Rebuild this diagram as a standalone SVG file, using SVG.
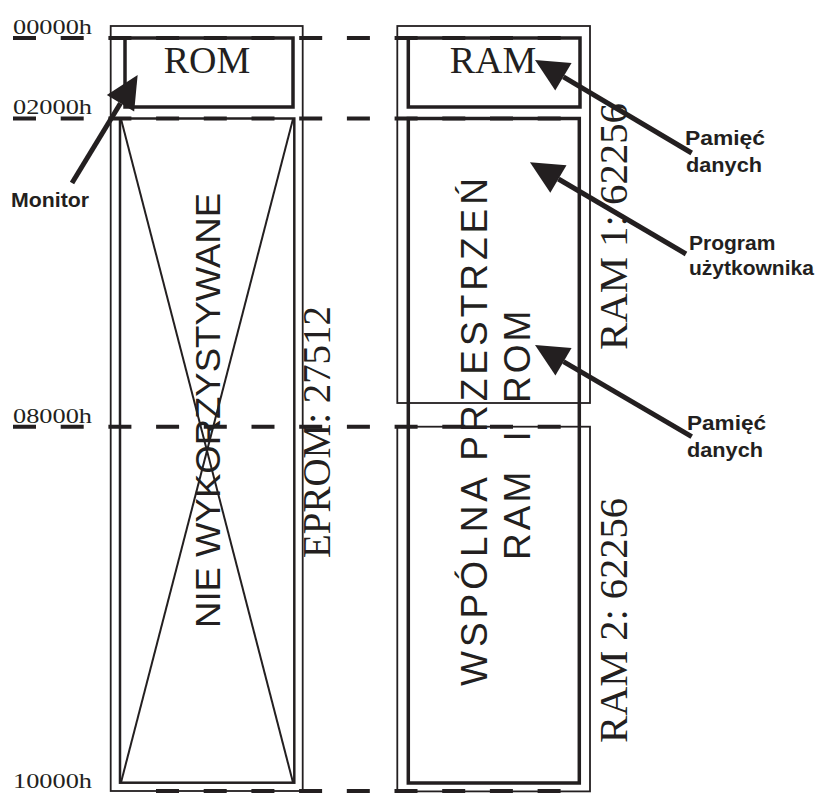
<svg xmlns="http://www.w3.org/2000/svg" width="819" height="794" viewBox="0 0 819 794">
<style>
.thin{fill:none;stroke:#231f20;stroke-width:1.8}
.thick{fill:none;stroke:#231f20;stroke-width:3.5}
.mid{fill:none;stroke:#231f20;stroke-width:2.5}
.xl{fill:none;stroke:#231f20;stroke-width:2}
.dash{fill:none;stroke:#231f20;stroke-width:4;stroke-dasharray:23 24.7}
.arrow{fill:none;stroke:#231f20;stroke-width:5;marker-end:url(#ah)}
.addr{font-family:"Liberation Serif","Times New Roman",serif;font-size:22px;fill:#231f20}
.serif{font-family:"Liberation Serif","Times New Roman",serif;fill:#231f20}
.sans{font-family:"Liberation Sans",Arial,sans-serif;fill:#231f20}
.lbl{font-family:"Liberation Sans",Arial,sans-serif;font-size:21px;font-weight:bold;fill:#231f20}
</style>
<defs>
<marker id="ah" markerUnits="userSpaceOnUse" markerWidth="34" markerHeight="32" viewBox="0 0 34 32" refX="0" refY="16" orient="auto" overflow="visible">
<path d="M0,0 L33,16 L0,32 z" fill="#231f20"/>
</marker>
</defs>
<rect width="819" height="794" fill="#ffffff"/>

<g id="eprom">
<rect class="thin" x="110.7" y="26" width="192" height="765"/>
<text class="serif" font-size="39" text-anchor="middle" textLength="252" lengthAdjust="spacingAndGlyphs" transform="translate(330,432) rotate(-90)">EPROM: 27512</text>
</g>
<g id="rom">
<rect class="thick" x="125" y="38" width="168" height="69"/>
<text class="serif" font-size="38" x="207" y="73" text-anchor="middle">ROM</text>
</g>
<g id="unused">
<rect class="mid" x="120" y="118.5" width="174.3" height="664.2"/>
<line class="xl" x1="121" y1="119" x2="293" y2="782.5"/>
<line class="xl" x1="293" y1="119" x2="121" y2="782.5"/>
<text class="sans" font-size="35" text-anchor="middle" textLength="435" lengthAdjust="spacingAndGlyphs" transform="translate(220,410.5) rotate(-90)">NIE WYKORZYSTYWANE</text>
</g>
<g id="ram1">
<rect class="thin" x="397.3" y="26" width="192.7" height="377"/>
<text class="serif" font-size="40" text-anchor="middle" textLength="247" lengthAdjust="spacingAndGlyphs" transform="translate(627,226.5) rotate(-90)">RAM 1: 62256</text>
</g>
<g id="ram2">
<rect class="thin" x="397.3" y="426.7" width="192.7" height="364.7"/>
<text class="serif" font-size="40" text-anchor="middle" textLength="245" lengthAdjust="spacingAndGlyphs" transform="translate(627,620.5) rotate(-90)">RAM 2: 62256</text>
</g>
<g id="ram-data">
<rect class="thick" x="408.3" y="38" width="171.7" height="69"/>
<text class="serif" font-size="38" x="493" y="73" text-anchor="middle">RAM</text>
</g>
<g id="shared">
<rect class="thick" x="408.3" y="118.5" width="171" height="664.5" stroke-width="4"/>
<text class="sans" font-size="37" letter-spacing="4" transform="translate(487,686) rotate(-90)">WSPÓLNA PRZESTRZEŃ</text>
<text class="sans" font-size="37" letter-spacing="3" transform="translate(530,560) rotate(-90)"><tspan x="0">RAM</tspan><tspan x="118.5">I</tspan><tspan x="157">ROM</tspan></text>
</g>

<g id="addresses">
<text class="addr" x="13" y="33.5" textLength="79" lengthAdjust="spacingAndGlyphs">00000h</text>
<text class="addr" x="13" y="114" textLength="79" lengthAdjust="spacingAndGlyphs">02000h</text>
<text class="addr" x="13" y="422.5" textLength="79" lengthAdjust="spacingAndGlyphs">08000h</text>
<text class="addr" x="13" y="788" textLength="79" lengthAdjust="spacingAndGlyphs">10000h</text>
</g>

<g id="connectors">
<line class="dash" x1="13" y1="38" x2="582" y2="38"/>
<line class="dash" x1="13" y1="118.5" x2="582" y2="118.5"/>
<line class="dash" x1="13" y1="426.7" x2="582" y2="426.7"/>
<line class="dash" x1="156" y1="791" x2="582" y2="791" stroke-width="3"/>
<line class="arrow" x1="72" y1="183" x2="120.5" y2="103.2"/>
<line class="arrow" x1="691.7" y1="153" x2="563.4" y2="76.8"/>
<line class="arrow" x1="686" y1="254" x2="558.4" y2="179"/>
<line class="arrow" x1="691.7" y1="436.7" x2="563.5" y2="361.7"/>
</g>

<g id="labels">
<text class="lbl" x="11" y="207" textLength="78" lengthAdjust="spacingAndGlyphs">Monitor</text>
<text class="lbl" x="685" y="145" textLength="80" lengthAdjust="spacingAndGlyphs">Pamięć</text>
<text class="lbl" x="686" y="172" textLength="76" lengthAdjust="spacingAndGlyphs">danych</text>
<text class="lbl" x="689" y="250">Program</text>
<text class="lbl" x="689" y="275">użytkownika</text>
<text class="lbl" x="687" y="430" textLength="79" lengthAdjust="spacingAndGlyphs">Pamięć</text>
<text class="lbl" x="687" y="457" textLength="76" lengthAdjust="spacingAndGlyphs">danych</text>
</g>
</svg>
